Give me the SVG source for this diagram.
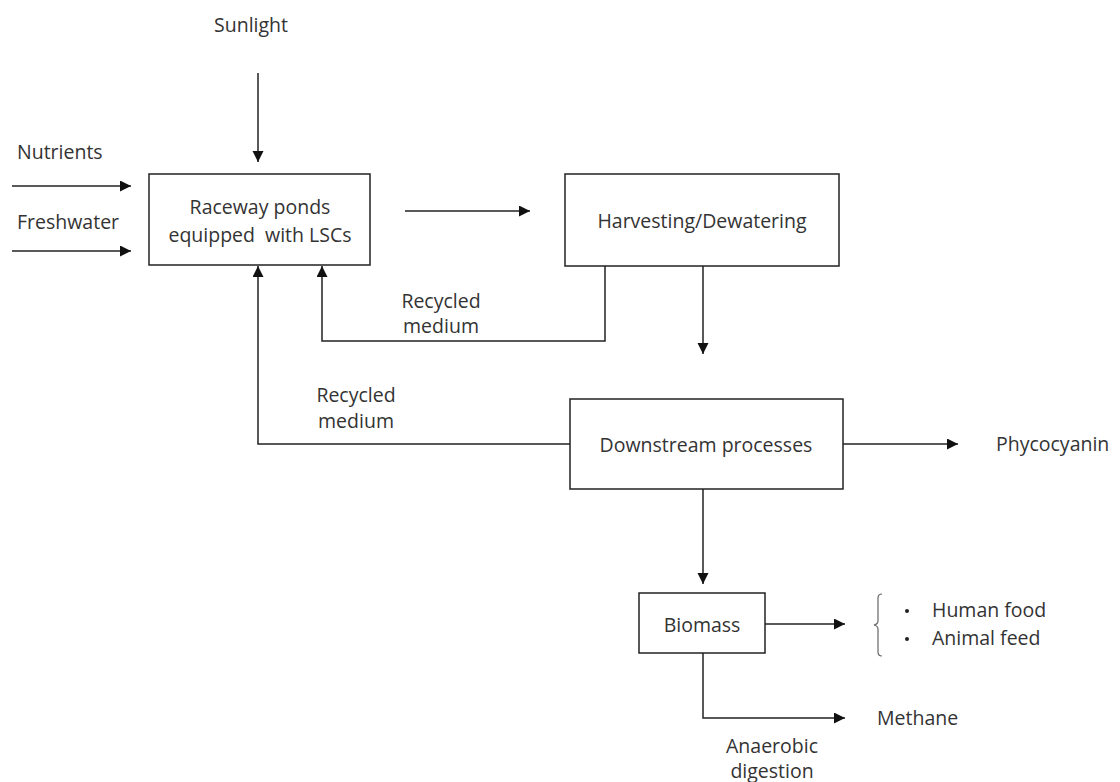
<svg xmlns="http://www.w3.org/2000/svg" width="1120" height="782" viewBox="0 0 1120 782">
<defs>
<marker id="ah" markerWidth="12" markerHeight="12" refX="11" refY="5.5" orient="auto" markerUnits="userSpaceOnUse">
<path d="M0,0 L11,5.5 L0,11 Z" fill="#111"/>
</marker>
<style>
.box{fill:#fff;stroke:#222;stroke-width:1.5}
.ln{fill:none;stroke:#222;stroke-width:1.5}
.ar{fill:none;stroke:#222;stroke-width:1.5;marker-end:url(#ah)}
text{font-family:"Open Sans","Noto Sans",sans-serif;font-size:19.5px;fill:#333}
.c{text-anchor:middle}
</style>
</defs>
<rect width="1120" height="782" fill="#fff"/>
<g id="connectors">
<line class="ar" x1="12" y1="186" x2="131" y2="186"/>
<line class="ar" x1="12" y1="251" x2="131" y2="251"/>
<line class="ar" x1="258" y1="73" x2="258" y2="162"/>
<line class="ar" x1="405" y1="211" x2="530" y2="211"/>
<line class="ar" x1="703" y1="266" x2="703" y2="354"/>
<polyline class="ar" points="605,266 605,341 322,341 322,266"/>
<polyline class="ar" points="570,444 258,444 258,266"/>
<line class="ar" x1="843" y1="444" x2="958" y2="444"/>
<line class="ar" x1="703" y1="489" x2="703" y2="584"/>
<line class="ar" x1="765" y1="624" x2="845" y2="624"/>
<polyline class="ar" points="703,653 703,718 845,718"/>
</g>
<g id="raceway"><rect class="box" x="149" y="174" width="221" height="91"/>
<text class="c" x="260" y="214">Raceway ponds</text><text class="c" x="260" y="242">equipped&#160; with LSCs</text></g>
<g id="harvesting"><rect class="box" x="565" y="174" width="274" height="92"/>
<text class="c" x="702" y="228">Harvesting/Dewatering</text></g>
<g id="downstream"><rect class="box" x="570" y="399" width="273" height="90"/>
<text class="c" x="706" y="452">Downstream processes</text></g>
<g id="biomass"><rect class="box" x="639" y="593" width="126" height="60"/>
<text class="c" x="702" y="632">Biomass</text></g>
<g id="labels">
<text class="c" x="251" y="32">Sunlight</text>
<text x="17" y="159">Nutrients</text>
<text x="17" y="229">Freshwater</text>
<text class="c" x="441" y="308">Recycled</text><text class="c" x="441" y="333">medium</text>
<text class="c" x="356" y="402">Recycled</text><text class="c" x="356" y="428">medium</text>
<text x="996" y="451">Phycocyanin</text>
<path class="ln" d="M882,594 Q878,594 878,598 L878,621 Q878,624 874,625 Q878,626 878,629 L878,652 Q878,656 882,656" style="stroke:#666;stroke-width:1.2"/>
<circle cx="907" cy="611" r="2" fill="#222"/><circle cx="907" cy="639" r="2" fill="#222"/>
<text x="932" y="617">Human food</text>
<text x="932" y="645">Animal feed</text>
<text x="877" y="725">Methane</text>
<text class="c" x="772" y="753">Anaerobic</text><text class="c" x="772" y="778">digestion</text>
</g>
</svg>
